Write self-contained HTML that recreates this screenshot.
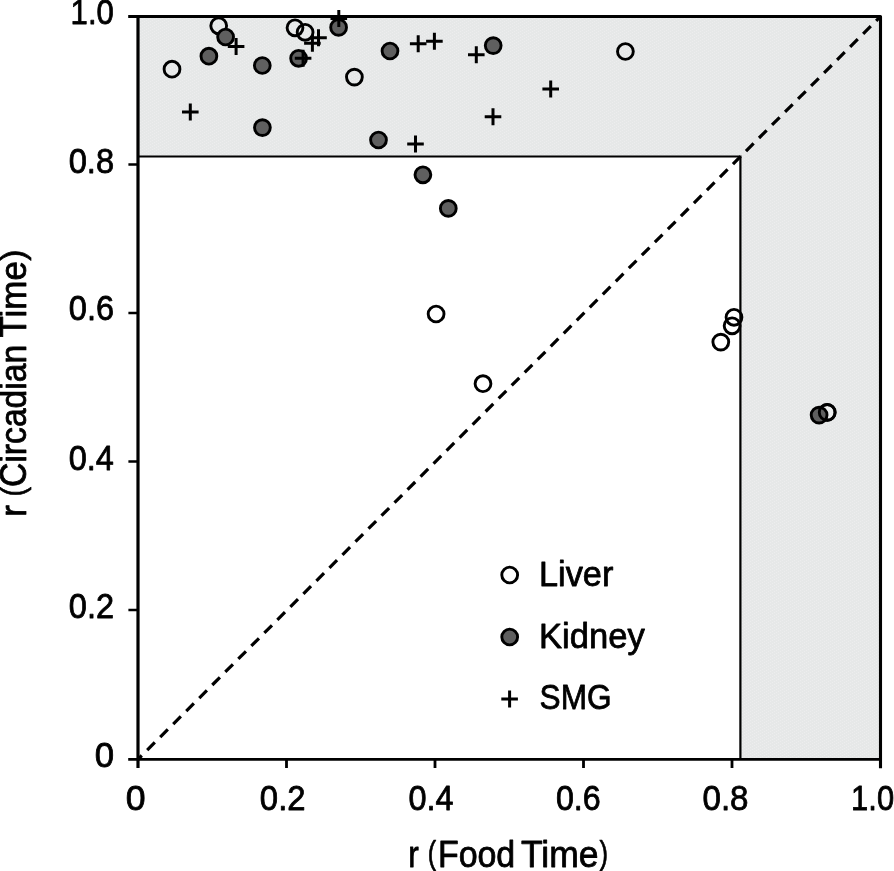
<!DOCTYPE html>
<html><head><meta charset="utf-8"><title>r plot</title>
<style>
html,body{margin:0;padding:0;background:#fff;}
svg{display:block;}
text{font-family:"Liberation Sans",sans-serif;fill:#000;}
</style></head><body>
<svg width="894" height="871" viewBox="0 0 894 871">
<rect width="894" height="871" fill="#fff"/>
<defs><pattern id="ht" width="6" height="3" patternUnits="userSpaceOnUse"><rect width="6" height="3" fill="#e6e8e8"/><rect x="0" y="0" width="1" height="1" fill="#ededee"/><rect x="2" y="2" width="1" height="1" fill="#ededee"/><rect x="4" y="1" width="1" height="1" fill="#ededee"/></pattern></defs>
<path d="M138.0 16.45H880.5V759.3H740.4V156.5H138.0Z" fill="url(#ht)"/>
<path d="M138.0 156.5H740.4V759.3" fill="none" stroke="#000" stroke-width="2.2" stroke-linejoin="miter"/>
<line x1="138.0" y1="759.3" x2="880.5" y2="16.45" stroke="#000" stroke-width="3.2" stroke-dasharray="10.8 7.614" stroke-dashoffset="5.43"/>
<path d="M128.20 16.45H880.5V768.20" fill="none" stroke="#000" stroke-width="3.1" stroke-linejoin="round"/>
<path d="M138.0 16.45V768.10" fill="none" stroke="#000" stroke-width="3.2"/>
<path d="M128.20 759.3H880.5" fill="none" stroke="#000" stroke-width="2.8"/>
<path d="M286.50 759.3V768.10M435.00 759.3V768.10M583.50 759.3V768.10M732.00 759.3V768.10" fill="none" stroke="#000" stroke-width="2.8"/>
<path d="M128.40 610.06H138.0M128.40 461.52H138.0M128.40 312.98H138.0M128.40 164.44H138.0" fill="none" stroke="#000" stroke-width="2.6"/>
<g stroke="#000" stroke-width="2.9">
<circle cx="827.2" cy="412.4" r="7.9" fill="rgba(255,255,255,0.3)"/>
<circle cx="218.7" cy="25.8" r="7.9" fill="none"/>
<circle cx="172.0" cy="69.2" r="7.9" fill="none"/>
<circle cx="295.0" cy="27.8" r="7.9" fill="none"/>
<circle cx="305.1" cy="32.3" r="7.9" fill="none"/>
<circle cx="354.4" cy="77.1" r="7.9" fill="none"/>
<circle cx="625.4" cy="51.5" r="7.9" fill="none"/>
<circle cx="436.1" cy="314.0" r="7.9" fill="none"/>
<circle cx="483.0" cy="383.7" r="7.9" fill="none"/>
<circle cx="734.0" cy="317.3" r="7.9" fill="none"/>
<circle cx="732.1" cy="325.8" r="7.9" fill="none"/>
<circle cx="720.8" cy="342.1" r="7.9" fill="none"/>
<circle cx="225.6" cy="37.0" r="7.9" fill="#5f5f5f"/>
<circle cx="208.9" cy="56.2" r="7.9" fill="#5f5f5f"/>
<circle cx="262.3" cy="65.5" r="7.9" fill="#5f5f5f"/>
<circle cx="262.4" cy="127.6" r="7.9" fill="#5f5f5f"/>
<circle cx="298.6" cy="58.3" r="7.9" fill="#5f5f5f"/>
<circle cx="338.6" cy="27.4" r="7.9" fill="#5f5f5f"/>
<circle cx="390.0" cy="51.0" r="7.9" fill="#5f5f5f"/>
<circle cx="378.5" cy="140.0" r="7.9" fill="#5f5f5f"/>
<circle cx="493.2" cy="45.6" r="7.9" fill="#5f5f5f"/>
<circle cx="422.9" cy="174.8" r="7.9" fill="#5f5f5f"/>
<circle cx="448.3" cy="208.4" r="7.9" fill="#5f5f5f"/>
<circle cx="819.1" cy="415.1" r="7.9" fill="#5f5f5f"/>
<circle cx="827.2" cy="412.4" r="7.9" fill="none"/>
</g>
<g stroke="#000" stroke-width="3.0" fill="none">
<path d="M227.80 46.5H244.40M236.1 38.00V55.00"/>
<path d="M182.00 111.9H198.60M190.3 103.40V120.40"/>
<path d="M310.20 37.7H326.80M318.5 29.20V46.20"/>
<path d="M304.10 43.3H320.70M312.4 34.80V51.80"/>
<path d="M294.80 58.3H311.40M303.1 49.80V66.80"/>
<path d="M330.50 18.6H347.10M338.8 10.10V27.10"/>
<path d="M409.90 43.7H426.50M418.2 35.20V52.20"/>
<path d="M426.10 41.3H442.70M434.4 32.80V49.80"/>
<path d="M468.00 54.8H484.60M476.3 46.30V63.30"/>
<path d="M484.70 116.8H501.30M493.0 108.30V125.30"/>
<path d="M407.20 144.0H423.80M415.5 135.50V152.50"/>
<path d="M542.40 89.1H559.00M550.7 80.60V97.60"/>
</g>
<g style="filter:grayscale(1)" stroke="#000" stroke-width="0.8" stroke-linejoin="round">
<text transform="translate(70.61 23.80) scale(0.8831 1.0)" font-size="35.2">1.0</text>
<text transform="translate(68.67 172.50) scale(0.9283 1.0)" font-size="35.2">0.8</text>
<text transform="translate(68.77 320.40) scale(0.9262 1.0)" font-size="35.2">0.6</text>
<text transform="translate(68.78 469.90) scale(0.9228 1.0)" font-size="35.2">0.4</text>
<text transform="translate(68.78 617.90) scale(0.9247 1.0)" font-size="35.2">0.2</text>
<text transform="translate(94.71 766.70) scale(0.9886 1.0)" font-size="35.2">0</text>
<text transform="translate(125.69 809.60) scale(1.0114 1.0)" font-size="35.2">0</text>
<text transform="translate(259.87 809.60) scale(0.9333 1.0)" font-size="35.2">0.2</text>
<text transform="translate(408.48 809.60) scale(0.9206 1.0)" font-size="35.2">0.4</text>
<text transform="translate(555.88 809.60) scale(0.9155 1.0)" font-size="35.2">0.6</text>
<text transform="translate(702.46 809.60) scale(0.9412 1.0)" font-size="35.2">0.8</text>
<text transform="translate(851.12 809.60) scale(0.8787 1.0)" font-size="35.2">1.0</text>
<text transform="translate(408.36 866.50) scale(0.8700 1.0)" font-size="36.3">r</text>
<text transform="translate(427.68 864.00) scale(0.6952 0.904)" font-size="36.3">(</text>
<text transform="translate(437.96 866.50) scale(0.9342 1.0)" font-size="36.3">Food</text>
<text transform="translate(521.01 866.50) scale(0.9781 1.0)" font-size="36.3">Time</text>
<text transform="translate(599.48 864.00) scale(0.7048 0.904)" font-size="36.3">)</text>
<text transform="translate(26.30 516.72) rotate(-90) scale(0.9600 1.0)" font-size="36.3">r</text>
<text transform="translate(23.80 496.48) rotate(-90) scale(0.7905 0.904)" font-size="36.3">(</text>
<text transform="translate(26.30 486.89) rotate(-90) scale(0.9269 1.0)" font-size="36.3">Circadian</text>
<text transform="translate(26.30 337.48) rotate(-90) scale(0.9626 1.0)" font-size="36.3">Time</text>
<text transform="translate(23.80 260.67) rotate(-90) scale(0.9238 0.904)" font-size="36.3">)</text>
<text transform="translate(539.07 585.60) scale(0.9708 1.0)" font-size="35.3">Liver</text>
<text transform="translate(539.05 647.60) scale(0.9797 1.0)" font-size="35.3">Kidney</text>
<text transform="translate(539.58 709.40) scale(0.8948 1.0)" font-size="35.3">SMG</text>
</g>
<g stroke="#000" stroke-width="2.9"><circle cx="509.7" cy="575.0" r="7.9" fill="none"/><circle cx="509.7" cy="637.0" r="7.9" fill="#5f5f5f"/></g>
<g stroke="#000" stroke-width="3.0" fill="none"><path d="M501.30 699.1H517.90M509.6 690.60V707.60"/></g>
</svg></body></html>
